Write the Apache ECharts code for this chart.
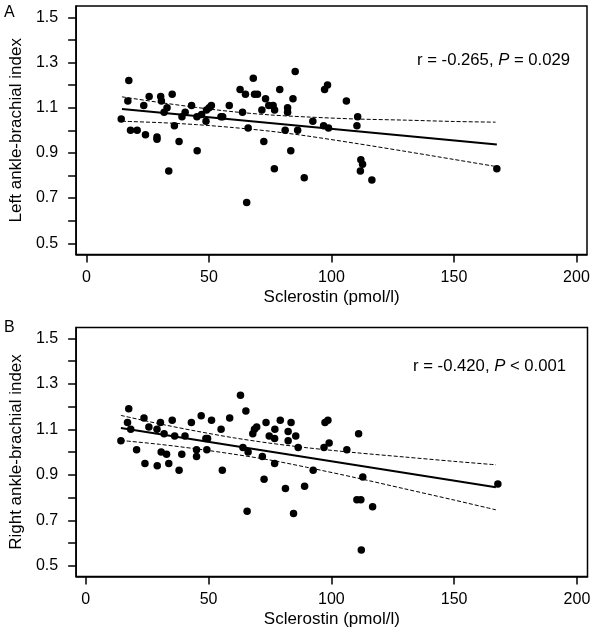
<!DOCTYPE html>
<html>
<head>
<meta charset="utf-8">
<script src="https://cdn.jsdelivr.net/npm/echarts@6/dist/echarts.min.js"></script>
<style>html,body{margin:0;padding:0;background:#fff}#c{width:595px;height:633px}</style>
</head>
<body>
<div id="c"></div>
<script>
// Panel A: left ankle-brachial index vs sclerostin
const sclA = [14.2,17.3,16.9,18.0,20.7,23.4,24.1,25.6,28.8,28.8,30.3,30.6,32.9,31.7,33.6,35.0,35.9,37.8,39.0,40.3,42.9,45.2,45.1,47.0,48.8,49.0,50.1,51.0,54.9,55.6,58.3,62.7,63.7,64.9,65.4,66.0,68.1,68.6,69.8,72.4,73.1,71.6,74.4,76.2,76.7,76.8,78.9,81.1,82.1,82.1,83.4,84.3,85.2,86.2,88.9,92.4,96.8,97.2,98.4,98.8,106.1,110.7,110.4,112.0,112.7,111.8,116.5,167.5];
const abiA = [1.05,1.22,1.13,1.00,1.00,1.11,0.98,1.15,0.97,0.96,1.15,1.13,1.10,1.08,0.82,1.16,1.02,0.95,1.06,1.08,1.11,0.91,1.06,1.07,1.04,1.09,1.10,1.11,1.06,1.06,1.11,1.18,1.08,1.16,0.68,1.01,1.23,1.16,1.16,0.95,1.14,1.09,1.11,1.11,0.83,1.09,1.18,1.00,1.10,1.08,0.91,1.14,1.26,1.00,0.79,1.04,1.02,1.18,1.20,1.01,1.13,1.06,1.02,0.87,0.85,0.82,0.78,0.83];
const fitXA = [14.5, 167.5];
const fitYA = [1.094, 0.937];
const bandXA = [14.5, 30, 45, 60, 75, 90, 110, 130, 150, 167];
const upperA = [1.148, 1.123, 1.101, 1.082, 1.068, 1.059, 1.050, 1.045, 1.039, 1.036];
const lowerA = [1.040, 1.034, 1.025, 1.012, 0.996, 0.975, 0.942, 0.907, 0.871, 0.840];

// Panel B: right ankle-brachial index vs sclerostin
const sclB = [14.3,17.5,17.0,18.3,20.7,23.7,24.1,25.7,29.0,29.1,30.4,30.7,31.9,32.9,33.8,35.2,36.2,38.0,39.1,40.4,43.0,45.1,45.1,47.0,48.9,49.6,49.3,51.2,55.6,55.1,58.6,63.0,64.0,65.2,66.1,65.7,68.0,68.7,69.6,71.9,72.6,73.4,74.7,76.9,76.9,77.0,79.2,81.3,82.4,82.4,83.6,84.6,85.5,86.5,89.1,92.6,97.0,97.4,98.6,99.1,106.3,111.1,110.4,112.0,112.8,112.2,116.8,167.8];
const abiB = [1.05,1.19,1.13,1.10,1.01,1.15,0.95,1.11,1.10,0.94,1.13,1.00,1.08,0.99,0.95,1.14,1.07,0.92,0.99,1.07,1.13,1.01,0.98,1.16,1.06,1.06,1.01,1.14,0.92,1.10,1.15,1.25,1.02,1.18,1.00,0.74,1.08,1.10,1.11,0.98,0.88,1.13,1.07,1.06,0.95,1.10,1.14,0.84,1.09,1.05,1.13,0.73,1.07,1.02,0.85,0.92,1.02,1.13,1.14,1.04,1.01,1.08,0.79,0.79,0.89,0.57,0.76,0.86];
const fitXB = [14.3, 167.0];
const fitYB = [1.106, 0.845];
const bandXB = [14.3, 30, 45, 60, 75, 90, 110, 130, 150, 167];
const upperB = [1.161, 1.124, 1.092, 1.063, 1.039, 1.019, 0.997, 0.978, 0.959, 0.944];
const lowerB = [1.051, 1.034, 1.014, 0.991, 0.965, 0.933, 0.887, 0.838, 0.789, 0.746];

// Axis ticks / labels
const xTicks = [0, 50, 100, 150, 200];
const yTicks = [0.5, 0.6, 0.7, 0.8, 0.9, 1.0, 1.1, 1.2, 1.3, 1.4, 1.5];
const yLabels = [0.5, 0.7, 0.9, 1.1, 1.3, 1.5];
const xName = 'Sclerostin (pmol/l)';
const yNameA = 'Left ankle-brachial index';
const yNameB = 'Right ankle-brachial index';
const statA = ['r = -0.265, ', 'P', ' = 0.029'];
const statB = ['r = -0.420, ', 'P', ' < 0.001'];

const FONT = '"Liberation Sans", Arial, sans-serif';
const pairs = (xs, ys) => xs.map((x, i) => [x, ys[i]]);

function xAxis(gi, min, max) {
  return {
    type: 'value', gridIndex: gi, min: min, max: max,
    name: xName, nameLocation: 'middle', nameGap: 34,
    nameTextStyle: {fontFamily: FONT, fontSize: 17, color: '#000'},
    axisLine: {show: true, onZero: false, lineStyle: {color: '#000', width: 1.5}},
    axisTick: {show: true, length: 8, inside: false, customValues: xTicks, lineStyle: {color: '#000', width: 1.5}},
    axisLabel: {show: true, customValues: xTicks, margin: 15, fontFamily: FONT, fontSize: 16, color: '#000'},
    splitLine: {show: false}
  };
}
function yAxis(gi, min, max, name) {
  return {
    type: 'value', gridIndex: gi, min: min, max: max,
    name: name, nameLocation: 'middle', nameGap: 49, nameRotate: 90,
    nameTextStyle: {fontFamily: FONT, fontSize: 17, color: '#000'},
    axisLine: {show: true, onZero: false, lineStyle: {color: '#000', width: 1.5}},
    axisTick: {show: true, length: 8, inside: false, customValues: yTicks, lineStyle: {color: '#000', width: 1.5}},
    axisLabel: {show: true, customValues: yLabels, margin: 18, fontFamily: FONT, fontSize: 16, color: '#000',
      formatter: v => Number(v).toFixed(1)},
    splitLine: {show: false}
  };
}
function scatter(xi, xs, ys) {
  return {type: 'scatter', xAxisIndex: xi, yAxisIndex: xi, data: pairs(xs, ys),
    symbol: 'circle', symbolSize: 7.5, itemStyle: {color: '#000', opacity: 1}, silent: true, z: 3};
}
function line(xi, xs, ys, dashed) {
  return {type: 'line', xAxisIndex: xi, yAxisIndex: xi, data: pairs(xs, ys),
    showSymbol: false, smooth: dashed ? 0.3 : false, silent: true, z: 2,
    lineStyle: dashed ? {color: '#000', width: 1, type: [4, 2]} : {color: '#000', width: 2}};
}
function stat(left, y, parts) {
  return {type: 'text', left: left, top: y - 9,
    style: {text: '{n|' + parts[0] + '}{i|' + parts[1] + '}{n|' + parts[2] + '}',
      rich: {n: {fontFamily: FONT, fontSize: 16.7, fill: '#000'},
             i: {fontFamily: FONT, fontSize: 16.7, fontStyle: 'italic', fill: '#000'}}}};
}

const chart = echarts.init(document.getElementById('c'), null, {renderer: 'canvas'});
chart.setOption({
  backgroundColor: '#fff',
  animation: false,
  grid: [
    {left: 73, top: 6, width: 514, height: 248.5, show: true, borderColor: '#000', borderWidth: 1.5, backgroundColor: 'transparent'},
    {left: 72, top: 327.5, width: 515.5, height: 249, show: true, borderColor: '#000', borderWidth: 1.5, backgroundColor: 'transparent'}
  ],
  xAxis: [xAxis(0, -4.2, 204.3), xAxis(1, -3.92, 204.3)],
  yAxis: [yAxis(0, 0.4504, 1.55, yNameA), yAxis(1, 0.453, 1.5474, yNameB)],
  series: [
    scatter(0, sclA, abiA),
    line(0, fitXA, fitYA, false),
    line(0, bandXA, upperA, true),
    line(0, bandXA, lowerA, true),
    scatter(1, sclB, abiB),
    line(1, fitXB, fitYB, false),
    line(1, bandXB, upperB, true),
    line(1, bandXB, lowerB, true)
  ],
  graphic: [
    {type: 'text', left: 4, top: 5, style: {text: 'A', fontFamily: FONT, fontSize: 16, fill: '#000'}},
    {type: 'text', left: 4, top: 320, style: {text: 'B', fontFamily: FONT, fontSize: 16, fill: '#000'}},
    stat(417, 61, statA),
    stat(413, 367, statB)
  ]
});
</script>
</body>
</html>
